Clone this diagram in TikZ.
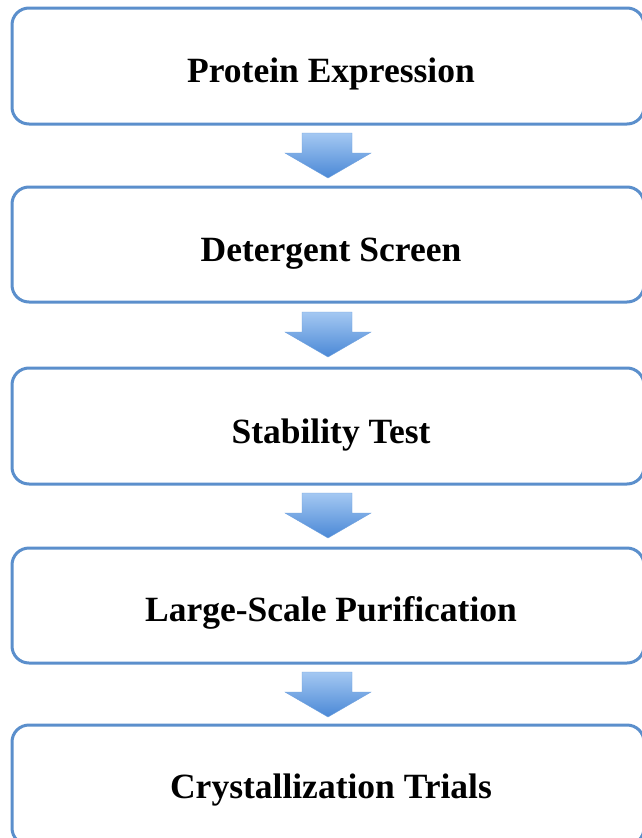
\documentclass[tikz,border=0pt]{standalone}
\usepackage{fontspec}
\setmainfont{Liberation Serif}
\usetikzlibrary{calc}

\definecolor{boxline}{HTML}{5B8FCC}
\definecolor{arrowtop}{HTML}{A4C8F2}
\definecolor{arrowbot}{HTML}{4A88D6}

\tikzset{
  stage/.style={draw=boxline, line width=3pt, rounded corners=17pt, fill=white},
  stagetext/.style={anchor=base, font=\fontsize{35.5}{40}\selectfont\bfseries, text=black, inner sep=0pt},
  flowarrow/.style={top color=arrowtop, bottom color=arrowbot, draw=arrowbot!80, line width=0.4pt}
}

% block arrow pointing down (y grows downward): #1 = top centre coordinate
\newcommand{\downarrowblock}[1]{%
  \path[flowarrow]
    ($(#1)+(-25,0)$) -- ($(#1)+(25,0)$) -- ($(#1)+(25,20)$) -- ($(#1)+(44,20)$)
    -- ($(#1)+(1,45)$) -- ($(#1)+(-42,20)$) -- ($(#1)+(-25,20)$) -- cycle;}

\begin{document}
\begin{tikzpicture}[x=1pt, y=-1pt]
  \useasboundingbox (0,0) rectangle (642,838);
  \clip (0,0) rectangle (642,838);
  \fill[white] (0,0) rectangle (642,838);

  % stage boxes
  \draw[stage] (12,8) rectangle (644,124);
  \draw[stage] (12,187) rectangle (644,302);
  \draw[stage] (12,368) rectangle (644,484);
  \draw[stage] (12,548) rectangle (644,663);
  \draw[stage] (12,725) rectangle (644,845);

  \node[stagetext] (t1) at (331,82) {Protein Expression};
  \node[stagetext] (t2) at (331,261) {Detergent Screen};
  \node[stagetext] (t3) at (331,443) {Stability Test};
  \node[stagetext] (t4) at (331,621) {Large-Scale Purification};
  \node[stagetext] (t5) at (331,798) {Crystallization Trials};

  % arrows between stages
  \coordinate (a1) at (327,133);
  \coordinate (a2) at (327,312);
  \coordinate (a3) at (327,493);
  \coordinate (a4) at (327,672);
  \downarrowblock{a1}
  \downarrowblock{a2}
  \downarrowblock{a3}
  \downarrowblock{a4}
\end{tikzpicture}
\end{document}
